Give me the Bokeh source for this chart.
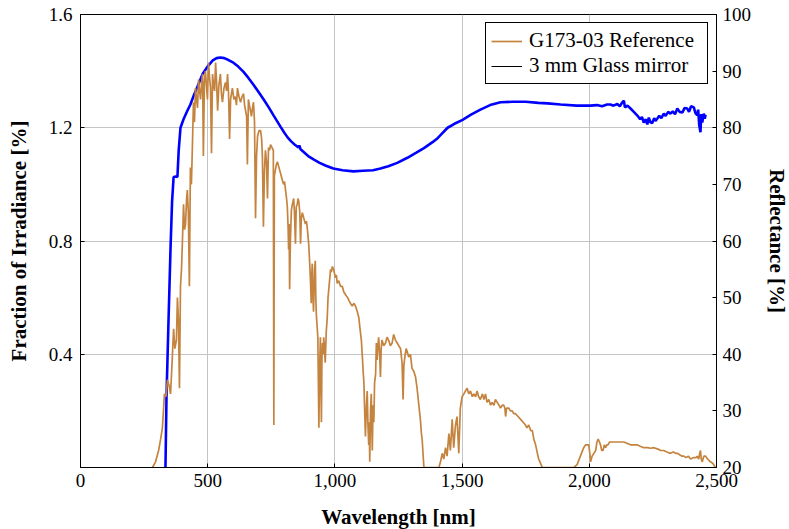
from bokeh.plotting import figure
from bokeh.models import Range1d, LinearAxis, FixedTicker, NumeralTickFormatter, Legend, LegendItem
from bokeh.embed import file_html
from bokeh.resources import INLINE

# ---- data: G173-03 reference irradiance (fraction, %) ----
irr_wl = [280, 283, 295, 307, 315, 322, 330, 336, 342, 348, 354, 361, 366, 371, 377, 381, 385, 389, 393, 397,
          401, 405, 409, 413, 417, 420, 424, 428, 432, 436, 440, 444, 448, 452, 456, 460, 464, 468, 472, 476,
          480, 483, 487, 491, 495, 499, 503, 507, 511, 515, 519, 523, 527, 531, 535, 539, 544, 550, 554, 558,
          564, 570, 574, 578, 582, 586, 590, 597, 603, 609, 613, 617, 623, 629, 635, 641, 645, 649, 653, 656,
          660, 666, 672, 676, 680, 684, 688, 692, 696, 702, 708, 712, 715, 719, 723, 727, 731, 735, 739, 743,
          747, 753, 758, 760, 762, 766, 770, 774, 780, 786, 792, 798, 802, 806, 810, 813, 816, 818, 820, 822,
          825, 829, 833, 838, 841, 845, 848, 852, 855, 858, 862, 865, 868, 872, 878, 884, 888, 891, 894, 897,
          901, 904, 907, 909, 911, 913, 916, 920, 923, 925, 927, 930, 933, 935, 937, 940, 943, 945, 947, 949,
          951, 954, 956, 959, 962, 966, 970, 973, 976, 980, 983, 986, 990, 995, 1002, 1006, 1009, 1015, 1022, 1029,
          1035, 1042, 1050, 1055, 1061, 1068, 1075, 1081, 1088, 1094, 1100, 1104, 1108, 1111, 1114, 1117, 1120, 1124, 1127, 1130,
          1133, 1135, 1137, 1140, 1143, 1145, 1147, 1150, 1153, 1156, 1160, 1163, 1166, 1169, 1172, 1176, 1179, 1182, 1185, 1192,
          1199, 1205, 1211, 1218, 1225, 1231, 1238, 1245, 1251, 1258, 1264, 1268, 1271, 1275, 1280, 1284, 1290, 1297, 1303, 1310,
          1317, 1320, 1323, 1330, 1336, 1340, 1343, 1347, 1350, 1409, 1415, 1422, 1428, 1435, 1441, 1448, 1454, 1461, 1467, 1474,
          1480, 1487, 1493, 1500, 1507, 1513, 1520, 1526, 1533, 1540, 1546, 1553, 1559, 1565, 1572, 1580, 1586, 1592, 1598, 1605,
          1612, 1618, 1625, 1631, 1638, 1645, 1651, 1658, 1664, 1668, 1671, 1675, 1683, 1690, 1697, 1703, 1710, 1720, 1730, 1740,
          1749, 1755, 1762, 1770, 1776, 1782, 1789, 1796, 1801, 1806, 1815, 1939, 1952, 1965, 1978, 1985, 1991, 1998, 2002, 2005,
          2011, 2018, 2025, 2030, 2035, 2040, 2044, 2049, 2054, 2059, 2064, 2069, 2073, 2080, 2090, 2100, 2110, 2120, 2136, 2150,
          2162, 2175, 2188, 2200, 2214, 2230, 2240, 2254, 2270, 2280, 2293, 2305, 2319, 2330, 2340, 2346, 2355, 2365, 2372, 2380,
          2390, 2398, 2410, 2420, 2424, 2430, 2434, 2437, 2440, 2444, 2450, 2457, 2465, 2476, 2485, 2496]
irr_val = [0.0, 0.0, 0.02, 0.06, 0.10, 0.14, 0.26, 0.25, 0.31, 0.29, 0.26, 0.39, 0.49, 0.42, 0.45, 0.60, 0.52, 0.28, 0.64, 0.70,
           0.81, 0.93, 0.84, 0.86, 0.95, 0.98, 0.90, 0.64, 1.06, 1.00, 1.14, 1.29, 1.22, 1.34, 1.30, 1.27, 1.37, 1.33, 1.30, 1.36,
           1.39, 1.10, 1.36, 1.40, 1.35, 1.30, 1.43, 1.38, 1.34, 1.11, 1.39, 1.35, 1.33, 1.43, 1.36, 1.26, 1.35, 1.39, 1.32, 1.29,
           1.34, 1.36, 1.33, 1.39, 1.32, 1.16, 1.30, 1.34, 1.30, 1.31, 1.28, 1.34, 1.31, 1.29, 1.31, 1.32, 1.28, 1.26, 1.24, 1.07,
           1.30, 1.27, 1.24, 1.27, 1.29, 1.22, 0.88, 1.10, 1.17, 1.19, 1.19, 1.16, 1.10, 0.85, 1.05, 1.12, 1.08, 0.95, 1.13, 1.12,
           1.14, 1.13, 1.12, 0.15, 1.03, 1.05, 1.07, 1.08, 1.06, 1.04, 1.02, 1.00, 1.01, 0.98, 0.95, 0.92, 0.85, 0.77, 0.86, 0.63,
           0.80, 0.91, 0.93, 0.95, 0.90, 0.79, 0.92, 0.93, 0.95, 0.94, 0.90, 0.79, 0.88, 0.90, 0.88, 0.86, 0.87, 0.85, 0.82, 0.79,
           0.72, 0.66, 0.58, 0.68, 0.72, 0.62, 0.55, 0.70, 0.73, 0.60, 0.54, 0.50, 0.46, 0.30, 0.14, 0.35, 0.46, 0.30, 0.16, 0.38,
           0.44, 0.40, 0.46, 0.42, 0.37, 0.48, 0.53, 0.60, 0.63, 0.67, 0.70, 0.69, 0.71, 0.70, 0.67, 0.68, 0.65, 0.66, 0.64, 0.64,
           0.62, 0.61, 0.60, 0.59, 0.58, 0.57, 0.58, 0.57, 0.55, 0.53, 0.48, 0.45, 0.39, 0.34, 0.30, 0.20, 0.11, 0.22, 0.27, 0.15,
           0.08, 0.16, 0.02, 0.20, 0.26, 0.15, 0.06, 0.22, 0.16, 0.30, 0.33, 0.44, 0.38, 0.43, 0.46, 0.40, 0.32, 0.42, 0.45, 0.43,
           0.44, 0.46, 0.45, 0.43, 0.44, 0.47, 0.45, 0.44, 0.43, 0.42, 0.37, 0.24, 0.36, 0.39, 0.42, 0.41, 0.39, 0.40, 0.35, 0.34,
           0.32, 0.30, 0.28, 0.22, 0.17, 0.12, 0.10, 0.04, 0.0, 0.0, 0.02, 0.05, 0.03, 0.07, 0.04, 0.12, 0.06, 0.17, 0.07, 0.15,
           0.18, 0.05, 0.21, 0.25, 0.26, 0.27, 0.28, 0.26, 0.27, 0.25, 0.26, 0.25, 0.27, 0.25, 0.24, 0.26, 0.24, 0.26, 0.23, 0.24,
           0.22, 0.23, 0.22, 0.24, 0.23, 0.22, 0.21, 0.22, 0.22, 0.21, 0.18, 0.21, 0.21, 0.20, 0.20, 0.19, 0.19, 0.18, 0.17, 0.16,
           0.15, 0.14, 0.15, 0.13, 0.13, 0.10, 0.08, 0.05, 0.03, 0.02, 0.0, 0.0, 0.01, 0.04, 0.07, 0.08, 0.08, 0.08, 0.05, 0.02,
           0.04, 0.05, 0.06, 0.09, 0.10, 0.09, 0.08, 0.06, 0.06, 0.08, 0.07, 0.08, 0.08, 0.09, 0.09, 0.09, 0.09, 0.09, 0.09, 0.085,
           0.08, 0.08, 0.08, 0.075, 0.07, 0.07, 0.068, 0.07, 0.065, 0.06, 0.06, 0.055, 0.05, 0.055, 0.05, 0.05, 0.045, 0.04, 0.04, 0.035,
           0.04, 0.03, 0.035, 0.035, 0.04, 0.03, 0.05, 0.06, 0.03, 0.02, 0.04, 0.04, 0.03, 0.02, 0.015, 0.0]

# ---- data: 3 mm glass mirror reflectance (%) ----
refl_wl = [330, 334, 338, 346, 354, 360, 366, 375, 381, 386, 393, 405, 420, 432, 446, 460, 480, 499, 520, 535,
           550, 565, 580, 601, 620, 640, 660, 680, 700, 720, 740, 760, 786, 800, 814, 828, 840, 852, 857, 860,
           865, 875, 895, 916, 940, 965, 994, 1030, 1073, 1110, 1150, 1179, 1210, 1245, 1285, 1320, 1350, 1388, 1400, 1415,
           1443, 1470, 1502, 1535, 1572, 1610, 1651, 1700, 1750, 1800, 1836, 1887, 1950, 2005, 2030, 2050, 2070, 2083, 2095, 2110,
           2120, 2130, 2136, 2140, 2150, 2162, 2175, 2188, 2200, 2207, 2214, 2222, 2228, 2234, 2240, 2247, 2255, 2260, 2267, 2275,
           2283, 2293, 2300, 2310, 2319, 2328, 2337, 2346, 2355, 2366, 2375, 2385, 2392, 2400, 2411, 2417, 2424, 2428, 2432, 2437,
           2440, 2444, 2450, 2454, 2457]
refl_val = [18.0, 20.0, 32.4, 46.0, 58.9, 67.0, 71.3, 71.4, 71.3, 76.0, 80.0, 81.5, 83.0, 84.1, 85.8, 87.3, 89.5, 90.8, 91.9, 92.3,
            92.4, 92.3, 92.0, 91.5, 90.8, 89.9, 88.8, 87.6, 86.3, 85.0, 83.6, 82.1, 80.2, 79.2, 78.3, 77.6, 77.1, 76.7, 76.5, 76.9,
            76.2, 75.8, 75.0, 74.4, 73.8, 73.3, 72.8, 72.5, 72.3, 72.4, 72.5, 72.8, 73.2, 73.8, 74.7, 75.6, 76.4, 77.6, 78.0, 78.7,
            80.0, 80.7, 81.4, 82.3, 83.2, 84.0, 84.5, 84.6, 84.6, 84.4, 84.3, 84.1, 83.9, 83.9, 84.0, 83.8, 84.1, 84.1, 83.9, 84.2,
            83.8, 84.5, 84.8, 83.6, 83.9, 83.4, 82.8, 82.2, 81.5, 81.9, 80.9, 81.5, 80.6, 81.8, 81.0, 80.8, 81.7, 81.2, 81.6, 82.1,
            81.7, 82.5, 82.1, 82.8, 82.5, 82.9, 82.4, 83.4, 82.8, 82.7, 83.5, 83.4, 82.8, 83.8, 83.6, 82.6, 82.2, 83.2, 80.5, 79.2,
            82.4, 80.9, 82.5, 81.6, 82.3]

x_ticks = [0, 500, 1000, 1500, 2000, 2500]
left_ticks = [0.4, 0.8, 1.2, 1.6]
right_ticks = [20, 30, 40, 50, 60, 70, 80, 90, 100]
nan = float("nan")

FONT = "Liberation Serif"
ORANGE = "#c4843f"

p = figure(frame_width=636, frame_height=453, output_backend="svg", toolbar_location=None,
           x_range=Range1d(0, 2500), y_range=Range1d(0, 1.6),
           min_border_left=80, min_border_right=73, min_border_top=14, min_border_bottom=62)
p.extra_y_ranges = {"refl": Range1d(20, 100)}

r_blue = p.line(refl_wl, refl_val, y_range_name="refl", line_color="#0000ff", line_width=2.6)
r_orange = p.line(irr_wl, irr_val, line_color=ORANGE, line_width=1.7)
r_black = p.line(x=[nan], y=[nan], line_color="black", line_width=1)

right_axis = LinearAxis(y_range_name="refl", ticker=FixedTicker(ticks=right_ticks))
p.add_layout(right_axis, "right")

p.xaxis.ticker = FixedTicker(ticks=x_ticks)
p.xaxis.formatter = NumeralTickFormatter(format="0,0")
p.yaxis[0].ticker = FixedTicker(ticks=left_ticks)
p.xgrid.ticker = FixedTicker(ticks=x_ticks)
p.ygrid.ticker = FixedTicker(ticks=left_ticks)
p.grid.grid_line_color = "#c4c4c4"
p.grid.grid_line_width = 1

p.xaxis.axis_label = "Wavelength [nm]"
p.yaxis[0].axis_label = "Fraction of Irradiance [%]"
right_axis.axis_label = "Reflectance [%]"

for ax in [p.xaxis[0], p.yaxis[0], right_axis]:
    ax.major_tick_in = 4
    ax.major_tick_out = 0
    ax.minor_tick_in = 0
    ax.minor_tick_out = 0
    ax.axis_line_color = "black"
    ax.major_tick_line_color = "black"
    ax.major_label_text_font = FONT
    ax.major_label_text_font_size = "19px"
    ax.major_label_text_color = "black"
    ax.axis_label_text_font = FONT
    ax.axis_label_text_font_size = "21px"
    ax.axis_label_text_font_style = "bold"
    ax.axis_label_text_color = "black"

p.xaxis.major_label_standoff = 6
p.xaxis.axis_label_standoff = 15
p.yaxis[0].major_label_standoff = 8
p.yaxis[0].axis_label_standoff = 15
right_axis.major_label_standoff = 6
right_axis.axis_label_standoff = 11

p.outline_line_color = "black"
p.outline_line_width = 1
p.outline_line_alpha = 1

legend = Legend(items=[LegendItem(label="G173-03 Reference", renderers=[r_orange]),
                       LegendItem(label="3 mm Glass mirror", renderers=[r_black])],
                location="top_right")
legend.label_text_font = FONT
legend.label_text_font_size = "21px"
legend.label_text_color = "black"
legend.border_line_color = "black"
legend.border_line_width = 1
legend.border_line_alpha = 1
legend.background_fill_alpha = 1
legend.margin = 8
legend.padding = 5
legend.spacing = 0
legend.glyph_width = 31
legend.label_standoff = 7
legend.label_width = 173
legend.label_height = 24
legend.glyph_height = 24
p.add_layout(legend)

open("out.html", "w").write(file_html(p, INLINE))
